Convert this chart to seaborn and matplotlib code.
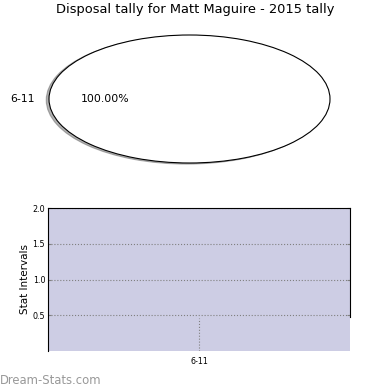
#Importing necessary libraries:
import matplotlib
matplotlib.use("Agg")
import matplotlib.pyplot as plt
import seaborn as sns
import pandas as pd

#Chart data:
player = "Matt Maguire"
season = "2015"
intervals = ["6-11"]
tally_share = [1]        # one slice -> 100%
stat_values = [2.0]      # bar reaches the top of the axis

sns.set_style("white")
plt.rcParams['font.family'] = ['DejaVu Sans']
plt.rcParams['text.color'] = 'black'
plt.rcParams['axes.labelcolor'] = 'black'
plt.rcParams['xtick.color'] = 'black'
plt.rcParams['ytick.color'] = 'black'

fig = plt.figure(figsize=(3.9, 3.9), dpi=100)

#Pie (drawn stretched, not equal aspect):
ax_pie = fig.add_axes([49/390, 1-163/390, 281/390, 128/390])
wedges, texts, autotexts = ax_pie.pie(tally_share, labels=intervals, autopct='%.2f%%',
                                      shadow={'ox': -0.014, 'oy': -0.012, 'shade': 0.6},
                                      startangle=0,
                                      wedgeprops={'facecolor': 'white', 'edgecolor': 'black', 'linewidth': 0.8},
                                      textprops={'fontsize': 7.8, 'color': 'black'})
ax_pie.set_aspect('auto')
ax_pie.set_xlim(-1, 1)
ax_pie.set_ylim(-1, 1)
fig.text(0.5, 1-10/390, f"Disposal tally for {player} - {season} tally",
         ha='center', va='center', fontsize=9.4)

#Bar chart:
ax_bar = fig.add_axes([48/390, 1-351/390, 302/390, 143/390])
df = pd.DataFrame({'interval': intervals, 'value': stat_values})
sns.barplot(data=df, x='interval', y='value', ax=ax_bar, color='#cdcde4',
            saturation=1, width=1.0, linewidth=0)
ax_bar.set_xlim(-0.5, 0.5)
ax_bar.set_ylim(0, 2.0)
ax_bar.set_yticks([0.5, 1.0, 1.5, 2.0])
ax_bar.set_yticklabels(['0.5', '1.0', '1.5', '2.0'], fontsize=5.8)
ax_bar.tick_params(axis='x', labelsize=5.8, length=0, pad=4)
ax_bar.tick_params(axis='y', direction='in', length=2, color='gray', pad=2)
ax_bar.yaxis.set_ticks_position('both')
ax_bar.set_xlabel('')
ax_bar.set_ylabel('Stat Intervals', fontsize=7.5, labelpad=2)
ax_bar.grid(axis='y', color='gray', linestyle=':', linewidth=0.8)
ax_bar.axvline(0, ymax=0.23, color='gray', linestyle=':', linewidth=0.8)
ax_bar.set_axisbelow(False)
for s in ['top', 'left', 'right']:
    ax_bar.spines[s].set_visible(True)
    ax_bar.spines[s].set_color('black')
    ax_bar.spines[s].set_linewidth(0.8)
    ax_bar.spines[s].set_zorder(5)
ax_bar.spines['bottom'].set_visible(False)
ax_bar.spines['right'].set_bounds(0.47, 2.0)

#Watermark:
fig.text(0.0, 1-380/390, "Dream-Stats.com", ha='left', va='center', fontsize=8.4, color='#999999')

fig.savefig("out.png", dpi=100)
